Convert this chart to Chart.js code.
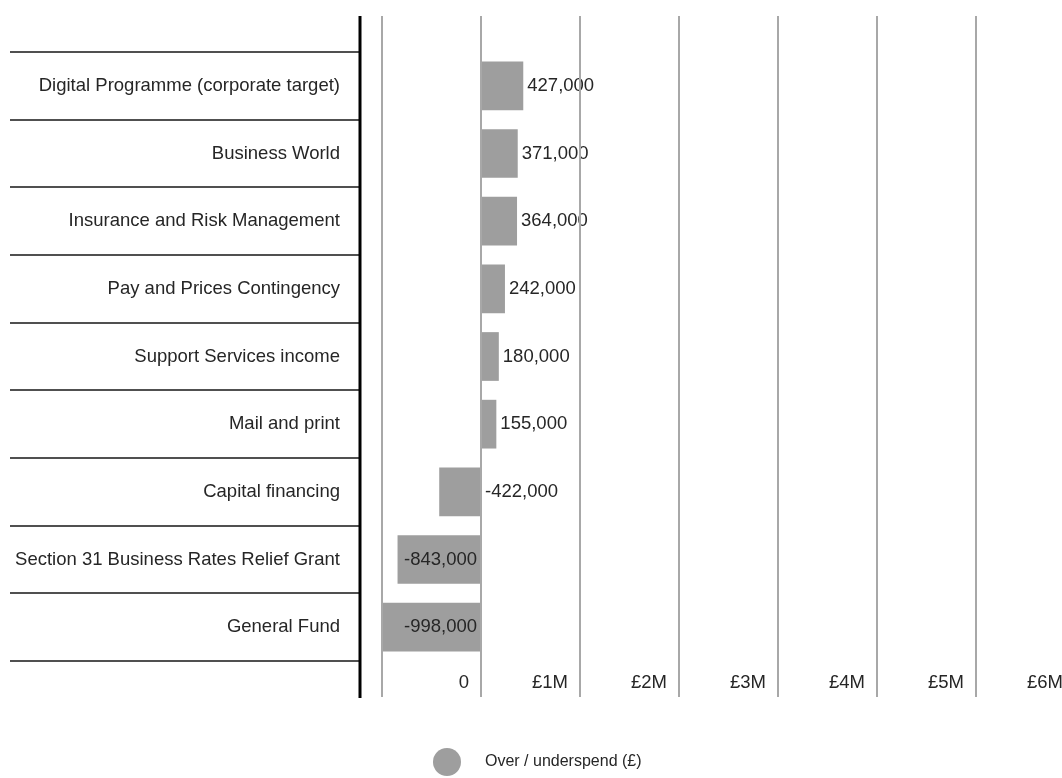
<!DOCTYPE html>
<html>
<head>
<meta charset="utf-8">
<script src="https://cdn.jsdelivr.net/npm/chart.js@4/dist/chart.umd.min.js"></script>
<style>
  html, body { margin: 0; padding: 0; background: #fff; overflow: hidden; }
  #wrap { width: 1080px; height: 778px; }
</style>
</head>
<body>
<div id="wrap"><canvas id="chart" width="1080" height="778"></canvas></div>
<script>
'use strict';

// ── data ──
const categories = [
  'Digital Programme (corporate target)',
  'Business World',
  'Insurance and Risk Management',
  'Pay and Prices Contingency',
  'Support Services income',
  'Mail and print',
  'Capital financing',
  'Section 31 Business Rates Relief Grant',
  'General Fund'
];
const spend = [427000, 371000, 364000, 242000, 180000, 155000, -422000, -843000, -998000];
const xTickValues = [-1000000, 0, 1000000, 2000000, 3000000, 4000000, 5000000, 6000000];
const xTickLabels = ['', '0', '£1M', '£2M', '£3M', '£4M', '£5M', '£6M'];
const seriesLabel = 'Over / underspend (£)';

// ── look ──
const FONT = '"Liberation Sans", Arial, Helvetica, sans-serif';
const TEXT = '#262626';
const BAR = '#9e9e9e';
const GRID = '#a8a8a8';
const RULE = '#505050';
const TOP_EDGE = 16;      // where the grid and the axis rule start
const AXIS_X = 360;       // thick category axis rule
const RULE_LEFT = 10;     // left end of the row separators

const fmt = v => v.toLocaleString('en-GB');

// value labels: after the bar for positives, inside near zero for negatives when they fit
const valueLabels = {
  id: 'valueLabels',
  afterDatasetsDraw(chart) {
    const ctx = chart.ctx;
    const xs = chart.scales.x;
    const zero = xs.getPixelForValue(0);
    const meta = chart.getDatasetMeta(0);
    ctx.save();
    ctx.font = '18.5px ' + FONT;
    ctx.fillStyle = TEXT;
    ctx.textBaseline = 'middle';
    meta.data.forEach((bar, i) => {
      const v = spend[i];
      const txt = fmt(v);
      const w = ctx.measureText(txt).width;
      if (v >= 0) {
        ctx.textAlign = 'left';
        ctx.fillText(txt, bar.x + 4, bar.y);
      } else if (zero - bar.x > w + 6) {
        ctx.textAlign = 'right';
        ctx.fillText(txt, zero - 4, bar.y);
      } else {
        ctx.textAlign = 'left';
        ctx.fillText(txt, zero + 4, bar.y);
      }
    });
    ctx.restore();
  }
};

// row separators, thick axis rule, grid tops and the legend
const frame = {
  id: 'frame',
  afterDraw(chart) {
    const ctx = chart.ctx;
    const area = chart.chartArea;
    const xs = chart.scales.x;
    const ys = chart.scales.y;
    const band = (area.bottom - area.top) / categories.length;
    ctx.save();

    // grid lines continue above the plot
    ctx.strokeStyle = GRID;
    ctx.lineWidth = 2;
    xTickValues.forEach(v => {
      const px = Math.round(xs.getPixelForValue(v));
      ctx.beginPath();
      ctx.moveTo(px, TOP_EDGE);
      ctx.lineTo(px, area.top);
      ctx.stroke();
    });

    // separators between rows
    ctx.strokeStyle = RULE;
    ctx.lineWidth = 2.2;
    for (let i = 0; i <= categories.length; i++) {
      const py = Math.round(ys.getPixelForValue(0) - band / 2 + i * band);
      ctx.beginPath();
      ctx.moveTo(RULE_LEFT, py);
      ctx.lineTo(AXIS_X, py);
      ctx.stroke();
    }

    // thick axis rule
    ctx.strokeStyle = '#000';
    ctx.lineWidth = 3;
    ctx.beginPath();
    ctx.moveTo(AXIS_X, TOP_EDGE);
    ctx.lineTo(AXIS_X, xs.bottom);
    ctx.stroke();

    // legend
    const lx = 447, ly = 762;
    ctx.fillStyle = BAR;
    ctx.beginPath();
    ctx.arc(lx, ly, 14, 0, Math.PI * 2);
    ctx.fill();
    ctx.fillStyle = TEXT;
    ctx.font = '16px ' + FONT;
    ctx.textAlign = 'left';
    ctx.textBaseline = 'middle';
    ctx.fillText(chart.data.datasets[0].label, lx + 38, ly);
    ctx.restore();
  }
};

new Chart(document.getElementById('chart'), {
  type: 'bar',
  data: {
    labels: categories,
    datasets: [{
      label: seriesLabel,
      data: spend,
      backgroundColor: BAR,
      borderWidth: 0,
      categoryPercentage: 1,
      barPercentage: 0.72
    }]
  },
  options: {
    indexAxis: 'y',
    responsive: false,
    animation: false,
    layout: { padding: { top: 52, bottom: 80, left: 0, right: 5 } },
    plugins: {
      legend: { display: false },
      tooltip: { enabled: false }
    },
    scales: {
      x: {
        type: 'linear',
        min: -1000000,
        max: 6000000,
        afterBuildTicks: s => { s.ticks = xTickValues.map(v => ({ value: v })); },
        afterFit: s => { s.height = 37; },
        border: { display: false },
        grid: { color: GRID, lineWidth: 2, tickLength: 36, z: 1 },
        ticks: {
          align: 'end',
          labelOffset: -12,
          padding: -25,
          maxRotation: 0,
          autoSkip: false,
          color: TEXT,
          font: { family: FONT, size: 18.5 },
          callback: (v, i) => xTickLabels[i]
        }
      },
      y: {
        afterFit: s => { s.width = 382; },
        border: { display: false },
        grid: { display: false },
        ticks: {
          padding: 34,
          color: TEXT,
          font: { family: FONT, size: 18.5 }
        }
      }
    }
  },
  plugins: [valueLabels, frame]
});
</script>
</body>
</html>
